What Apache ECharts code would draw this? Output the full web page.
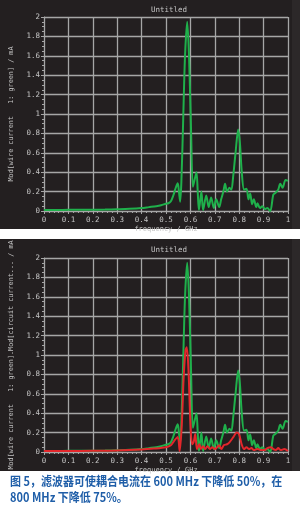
<!DOCTYPE html>
<html><head><meta charset="utf-8">
<script src="https://cdn.jsdelivr.net/npm/echarts@6/dist/echarts.min.js"></script>
<style>html,body{margin:0;padding:0;background:#fff}#c{width:300px;height:512px}</style>
</head><body><div id="c"></div>
<script>
const greenF = [0,0.05,0.10,0.15,0.20,0.25,0.30,0.35,0.40,0.43,0.46,0.48,0.50,0.51,0.52,0.53,0.54,0.548,0.553,0.558,0.563,0.57,0.578,0.587,0.595,0.603,0.61,0.618,0.625,0.63,0.635,0.645,0.652,0.665,0.675,0.685,0.696,0.706,0.718,0.726,0.735,0.742,0.75,0.76,0.768,0.775,0.785,0.796,0.803,0.81,0.82,0.83,0.838,0.845,0.853,0.86,0.87,0.875,0.885,0.895,0.905,0.915,0.927,0.94,0.95,0.96,0.968,0.978,0.99,1.0];
const greenV = [0.01,0.01,0.012,0.012,0.013,0.015,0.018,0.022,0.03,0.04,0.05,0.06,0.075,0.08,0.1,0.16,0.24,0.285,0.2,0.096,0.3,0.9,1.6,1.95,1.55,0.8,0.25,0.33,0.4,0.2,0.01,0.2,0.01,0.16,0.04,0.14,0.03,0.12,0.04,0.12,0.2,0.28,0.2,0.24,0.22,0.35,0.6,0.84,0.7,0.42,0.22,0.23,0.12,0.18,0.07,0.12,0.04,0.08,0.03,0.05,0.02,0.03,0.0,0.17,0.19,0.22,0.28,0.24,0.32,0.31];
const redF = [0,0.1,0.2,0.3,0.4,0.45,0.5,0.52,0.535,0.548,0.556,0.565,0.572,0.58,0.585,0.592,0.6,0.607,0.613,0.62,0.627,0.637,0.643,0.652,0.66,0.67,0.68,0.69,0.7,0.71,0.718,0.727,0.737,0.75,0.76,0.775,0.79,0.8,0.81,0.82,0.83,0.84,0.85,0.86,0.875,0.89,0.905,0.915,0.93,0.94,0.95,0.96,0.97,0.985,1.0];
const redV = [0.01,0.01,0.012,0.015,0.025,0.035,0.05,0.07,0.12,0.155,0.01,0.3,0.75,1.05,1.08,0.85,0.3,0.08,0.1,0.185,0.03,0.08,0.03,0.06,0.03,0.06,0.03,0.05,0.03,0.05,0.07,0.03,0.07,0.08,0.1,0.15,0.2,0.18,0.08,0.03,0.05,0.03,0.04,0.02,0.03,0.02,0.02,0.04,0.05,0.03,0.02,0.04,0.02,0.03,0.01];
const xTicks = [0,0.1,0.2,0.3,0.4,0.5,0.6,0.7,0.8,0.9,1];
const yTicks = [0,0.2,0.4,0.6,0.8,1,1.2,1.4,1.6,1.8,2];
const chartTitle = 'Untitled';
const xName = 'frequency / GHz';
const yName1 = 'Mod[wire current   1: green] / mA';
const yName2 = 'Mod[wire current   1: green].Mod[circuit current... / mA';
const caption1 = '图 5，滤波器可使耦合电流在 600 MHz 下降低 50%，在';
const caption2 = '800 MHz 下降低 75%。';

const pair = (f, v) => f.map((x, i) => [x, v[i]]);
const mono = 'DejaVu Sans Mono';
const txt = '#c4c4c4';
const gridCol = '#a6a6a6';
const PANEL = '#231f20';

function xAxis(gi) {
  return {
    type: 'value', gridIndex: gi, min: 0, max: 1, interval: 0.1,
    name: xName, nameLocation: 'middle', nameGap: 15,
    nameTextStyle: { color: txt, fontFamily: mono, fontSize: 7 },
    axisLine: { show: true, lineStyle: { color: gridCol, width: 1 } },
    axisTick: { show: true, length: 3, lineStyle: { color: gridCol } },
    minorTick: { show: true, splitNumber: 5, length: 2, lineStyle: { color: gridCol } },
    axisLabel: { color: txt, fontFamily: mono, fontSize: 7.5, margin: 5,
      formatter: v => { const t = xTicks.find(k => Math.abs(k - v) < 1e-6); return t === undefined ? '' : String(t); } },
    splitLine: { show: true, lineStyle: { color: gridCol, width: 1.3 } }
  };
}
function yAxis(gi, nm) {
  return {
    type: 'value', gridIndex: gi, min: 0, max: 2, interval: 0.2,
    name: nm, nameLocation: 'middle', nameGap: 29, nameRotate: 90,
    nameTextStyle: { color: txt, fontFamily: mono, fontSize: 6.8 },
    axisLine: { show: true, lineStyle: { color: gridCol, width: 1 } },
    axisTick: { show: true, length: 3, lineStyle: { color: gridCol } },
    minorTick: { show: true, splitNumber: 4, length: 2, lineStyle: { color: gridCol } },
    axisLabel: { color: txt, fontFamily: mono, fontSize: 7.5, margin: 4,
      formatter: v => { const t = yTicks.find(k => Math.abs(k - v) < 1e-6); return t === undefined ? '' : String(t); } },
    splitLine: { show: true, lineStyle: { color: gridCol, width: 1.3 } }
  };
}
const lineS = (data, color, xi, z) => ({
  type: 'line', xAxisIndex: xi, yAxisIndex: xi, data, showSymbol: false, smooth: 0.3,
  lineStyle: { color, width: 2 }, z, animation: false
});

const chart = echarts.init(document.getElementById('c'), null, { renderer: 'canvas' });
chart.setOption({
  backgroundColor: '#ffffff',
  animation: false,
  title: [
    { text: chartTitle, left: 164, top: 1, textAlign: 'center', textStyle: { color: txt, fontFamily: mono, fontSize: 7.5, fontWeight: 'normal' } },
    { text: chartTitle, left: 164, top: 241, textAlign: 'center', textStyle: { color: txt, fontFamily: mono, fontSize: 7.5, fontWeight: 'normal' } }
  ],
  graphic: [
    { type: 'rect', shape: { x: 0, y: 0, width: 300, height: 229 }, style: { fill: PANEL }, z: -10, silent: true },
    { type: 'rect', shape: { x: 0, y: 239, width: 300, height: 232 }, style: { fill: PANEL }, z: -10, silent: true },
    { type: 'rect', shape: { x: 292, y: 0, width: 8, height: 229 }, style: { fill: '#2c2829' }, z: -9, silent: true },
    { type: 'rect', shape: { x: 292, y: 239, width: 8, height: 232 }, style: { fill: '#2c2829' }, z: -9, silent: true },
    { type: 'text', x: 10, y: 475, scaleX: 0.88, style: { text: caption1, fill: '#1f5ea8', font: 'bold 12.5px "Noto Sans CJK SC", sans-serif' } },
    { type: 'text', x: 10, y: 491, scaleX: 0.88, style: { text: caption2, fill: '#1f5ea8', font: 'bold 12.5px "Noto Sans CJK SC", sans-serif' } }
  ],
  grid: [
    { left: 40, top: 17, width: 248, height: 194 },
    { left: 40, top: 258, width: 248, height: 194 }
  ],
  xAxis: [xAxis(0), xAxis(1)],
  yAxis: [yAxis(0, yName1), yAxis(1, yName2)],
  series: [
    lineS(pair(greenF, greenV), '#1fb04b', 0, 3),
    lineS(pair(greenF, greenV), '#1fb04b', 1, 3),
    lineS(pair(redF, redV), '#e3262b', 1, 4)
  ]
});
</script></body></html>
